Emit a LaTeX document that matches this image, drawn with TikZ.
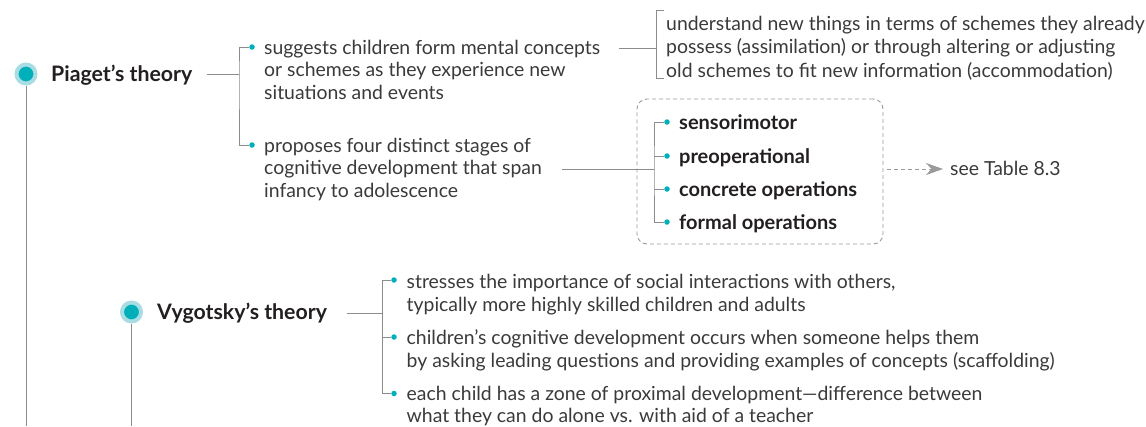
\documentclass[tikz,border=0pt]{standalone}
\usepackage{fontspec}
\setmainfont{Lato}
\usepackage{tikz}
\usetikzlibrary{arrows.meta,calc,positioning}
\definecolor{Teal}{HTML}{00AFBA}
\definecolor{TealRing}{HTML}{A9DDE3}
\definecolor{LineGray}{HTML}{8C8C8C}
\definecolor{BoxGray}{HTML}{9A9A9A}
\definecolor{BodyText}{HTML}{3A3A3A}
\definecolor{HeadText}{HTML}{231F20}
\tikzset{
  theorydot/.style={circle, fill=Teal, draw=TealRing, line width=4pt, minimum size=19pt, inner sep=0pt},
  bulletdot/.style={circle, fill=Teal, minimum size=5.5pt, inner sep=0pt},
  theorytext/.style={anchor=base west, inner sep=0pt, font=\fontsize{21.3}{24}\selectfont\bfseries, text=HeadText},
  bodytext/.style={anchor=base west, inner sep=0pt, align=left, font=\fontsize{19.4}{22.5}\selectfont, text=BodyText},
  stagetext/.style={anchor=base west, inner sep=0pt, font=\fontsize{20}{22}\selectfont\bfseries, text=HeadText},
  link/.style={draw=LineGray, line width=0.9pt},
}
\begin{document}
\begin{tikzpicture}[x=1pt, y=-1pt, >=Stealth]
    \useasboundingbox (0,0) rectangle (1146,426);

    % Piaget
    \node[theorydot] (pdot) at (26,74) {};
    \node[theorytext] (piaget) at (51,81) {Piaget’s theory};
    \coordinate (pbot) at (26,426);
    \draw[link] (pdot.south) -- (pbot);
    \coordinate (pj) at (239,74);
    \draw[link, shorten <=15pt] (piaget.east |- pj) -- (pj);
    \node[bulletdot] (pd1) at (252,47) {};
    \node[bulletdot] (pd2) at (252,145) {};
    \draw[link] (pd1) -| (pj) |- (pd2);
    \node[bodytext] (schemes) at (264,99) {suggests children form mental concepts\\or schemes as they experience new\\situations and events};
    \node[bodytext] (stages) at (264,197) {proposes four distinct stages of\\cognitive development that span\\infancy to adolescence};

    % assimilation / accommodation
    \coordinate (aj) at (656,48);
    \coordinate (atop) at (656,10);
    \coordinate (abot) at (656,78);
    \draw[link] (schemes.north east |- aj) ++(19,0) -- (aj);
    \draw[link] ($(atop)+(8,0)$) -- (atop) -- (abot) -- ++(8,0);
    \node[bodytext, font=\fontsize{19.4}{23.5}\selectfont] (assim) at (666,77) {understand new things in terms of schemes they already\\possess (assimilation) or through altering or adjusting\\old schemes to fit new information (accommodation)};

    % Stages box
    \node[draw=BoxGray, dashed, dash pattern=on 4pt off 3pt, line width=0.9pt, rounded corners=10pt,
          minimum width=246pt, minimum height=145pt] (stagebox) at (760,171.5) {};
    \coordinate (sj) at (654,169);
    \draw[link] (stages.north east |- sj) ++(20,0) -- (sj);
    \node[bulletdot] (sd1) at (667,122) {};
    \node[bulletdot] (sd2) at (667,156) {};
    \node[bulletdot] (sd3) at (667,189) {};
    \node[bulletdot] (sd4) at (667,222) {};
    \draw[link] (sd1) -| (sj) |- (sd4);
    \draw[link] (sd2) -- (sd2 -| sj);
    \draw[link] (sd3) -- (sd3 -| sj);
    \node[stagetext] (sensori) at (679,129) {sensorimotor};
    \node[stagetext] (preop) at (679,163) {preoperational};
    \node[stagetext] (concrete) at (679,196) {concrete operations};
    \node[stagetext] (formal) at (679,229) {formal operations};

    % see table
    \node[bodytext] (seetab) at (950,175.5) {see Table 8.3};
    \draw[draw=BoxGray, line width=0.9pt, dash pattern=on 4pt off 3pt,
          -{Stealth[length=17pt, width=12pt, fill=BoxGray]}]
          ($(stagebox.east |- sj)+(4,0)$) -- ($(seetab.west |- sj)+(-7,0)$);

    % Vygotsky
    \node[theorydot] (vdot) at (131.5,312) {};
    \node[theorytext] (vygotsky) at (157,319) {Vygotsky’s theory};
    \coordinate (vbot) at (131.5,426);
    \draw[link] (vdot.south) -- (vbot);
    \coordinate (vj) at (382.5,313);
    \draw[link, shorten <=20pt] (vygotsky.east |- vj) -- (vj);
    \node[bulletdot] (vd1) at (394,280) {};
    \node[bulletdot] (vd2) at (394,337) {};
    \node[bulletdot] (vd3) at (394,393.5) {};
    \draw[link] (vd1) -| (vj) |- (vd3);
    \draw[link] (vd2) -- (vd2 -| vj);
    \node[bodytext] (social) at (406.5,311) {stresses the importance of social interactions with others,\\typically more highly skilled children and adults};
    \node[bodytext] (scaffold) at (406.5,367) {children’s cognitive development occurs when someone helps them\\by asking leading questions and providing examples of concepts (scaffolding)};
    \node[bodytext] (zone) at (406.5,422.5) {each child has a zone of proximal development—difference between\\what they can do alone vs. with aid of a teacher};
\end{tikzpicture}
\end{document}
